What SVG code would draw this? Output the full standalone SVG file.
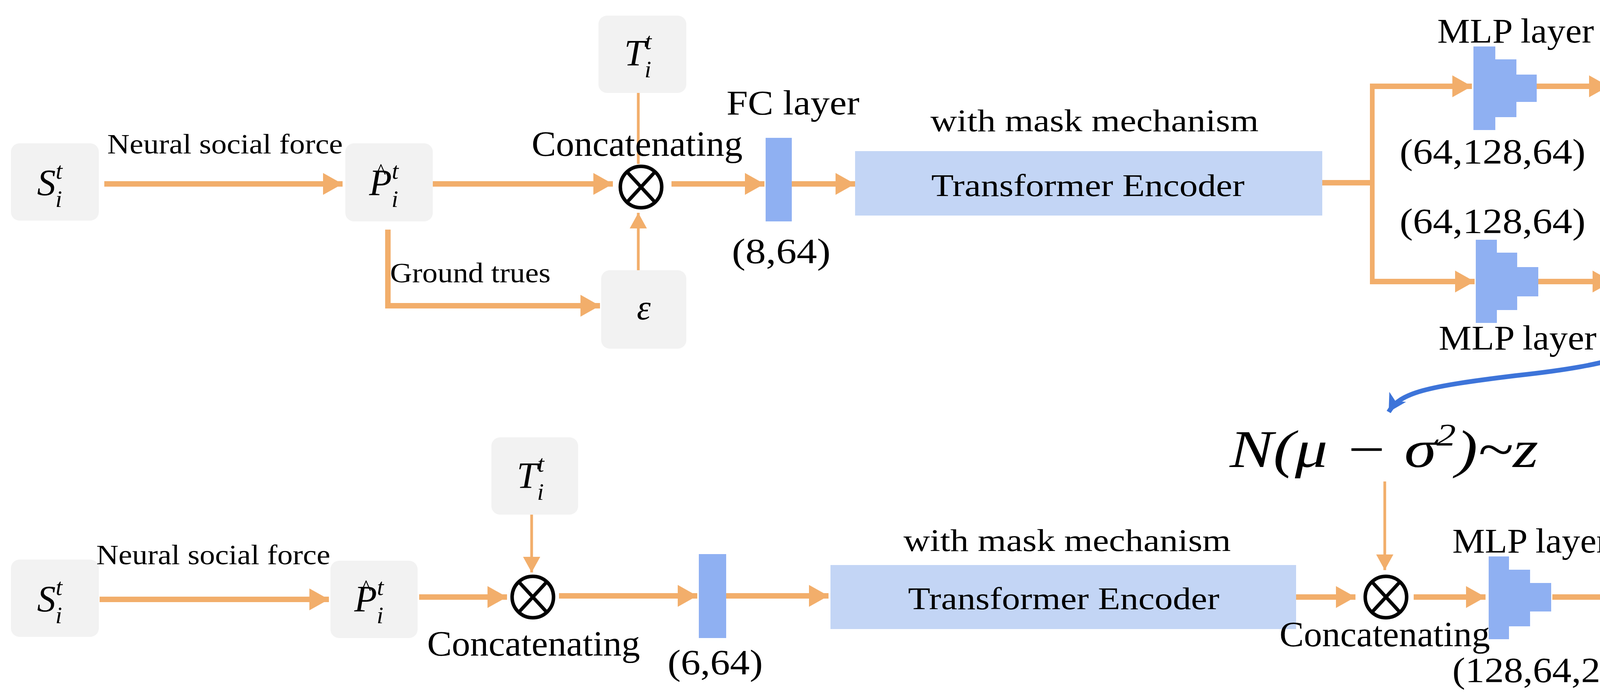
<svg xmlns="http://www.w3.org/2000/svg" width="4425" height="1785" viewBox="0 0 4425 1785">
<defs>
<marker id="ah" markerUnits="userSpaceOnUse" markerWidth="52" markerHeight="56" refX="50" refY="28" orient="auto"><path d="M0,0 L50,28 L0,56 z" fill="#F2AE6B"/></marker>
<marker id="ahs" markerUnits="userSpaceOnUse" markerWidth="40" markerHeight="44" refX="40" refY="22" orient="auto"><path d="M0,0 L40,22 L0,44 z" fill="#F2AE6B"/></marker>
<marker id="ahb" markerUnits="userSpaceOnUse" markerWidth="50" markerHeight="50" refX="45" refY="25" orient="auto"><path d="M0,0 L45,25 L0,50 L12,25 z" fill="#3D74D9"/></marker>
</defs>
<style>
.box{fill:#F2F2F2}
.bar{fill:#8FB0F2}
.te{fill:#C3D5F5}
.t{font-family:"Liberation Serif",serif;fill:#000}
.m{font-family:"Liberation Serif",serif;font-style:italic;fill:#000}
.a{stroke:#F2AE6B;stroke-width:14;fill:none;marker-end:url(#ah)}
.v{stroke:#F2AE6B;stroke-width:7;fill:none;marker-end:url(#ahs)}
.ln{stroke:#F2AE6B;stroke-width:7;fill:none}
.ot{fill:#fff;stroke:#000;stroke-width:9}
</style>
<g id="connectors">
<line class="a" x1="267" y1="471" x2="877" y2="471"/>
<line class="a" x1="1108" y1="471" x2="1569" y2="471"/>
<line class="ln" x1="1634" y1="238" x2="1634" y2="420"/>
<line class="v" x1="1634" y1="692" x2="1634" y2="545"/>
<polyline class="a" points="993,588 993,783 1536,783"/>
<line class="a" x1="1719" y1="471" x2="1957" y2="471"/>
<line class="a" x1="2027" y1="471" x2="2189" y2="471"/>
<line class="ln" x1="3385" y1="468" x2="3513" y2="468" style="stroke-width:14"/>
<line class="ln" x1="3513" y1="221" x2="3513" y2="727" style="stroke-width:12"/>
<line class="a" x1="3507" y1="221" x2="3768" y2="221"/>
<line class="a" x1="3507" y1="721" x2="3775" y2="721"/>
<line class="a" x1="3934" y1="221" x2="4118" y2="221"/>
<line class="a" x1="3938" y1="721" x2="4127" y2="721"/>
<path d="M4272,803 C4262,900 4130,935 3880,962 C3650,990 3585,1005 3555,1055" stroke="#3D74D9" stroke-width="12" fill="none" marker-end="url(#ahb)"/>
<line class="v" x1="3545" y1="1233" x2="3545" y2="1460"/>
<line class="a" x1="255" y1="1535" x2="842" y2="1535"/>
<line class="a" x1="1073" y1="1529" x2="1298" y2="1529"/>
<line class="v" x1="1361" y1="1318" x2="1361" y2="1466"/>
<line class="a" x1="1431" y1="1526" x2="1785" y2="1526"/>
<line class="a" x1="1859" y1="1526" x2="2121" y2="1526"/>
<line class="a" x1="3318" y1="1529" x2="3470" y2="1529"/>
<line class="a" x1="3619" y1="1529" x2="3803" y2="1529"/>
<line class="a" x1="3974" y1="1529" x2="4162" y2="1529"/>
</g>
<g id="S1"><rect class="box" x="28" y="367" width="225" height="198" rx="22"/><text class="m" x="95" y="500" font-size="95">S<tspan font-size="62" dy="-42">t</tspan><tspan font-size="62" dx="-18" dy="72">i</tspan></text></g>
<g id="P1"><rect class="box" x="884" y="367" width="224" height="200" rx="22"/><text class="m" x="945" y="500" font-size="95">P<tspan font-size="62" dy="-42">t</tspan><tspan font-size="62" dx="-18" dy="72">i</tspan></text><text class="t" x="962" y="458" font-size="56">^</text></g>
<g id="T1"><rect class="box" x="1532" y="40" width="225" height="198" rx="22"/><text class="m" x="1598" y="168" font-size="95">T<tspan font-size="62" dy="-42">t</tspan><tspan font-size="62" dx="-18" dy="72">i</tspan></text></g>
<g id="E1"><rect class="box" x="1539" y="692" width="218" height="201" rx="22"/><text class="m" x="1648" y="818" font-size="90" text-anchor="middle">ε</text></g>
<g id="C1"><circle class="ot" cx="1641" cy="479" r="53"/><path d="M1606,441 L1676,517 M1676,441 L1606,517" stroke="#000" stroke-width="9"/></g>
<g id="FC1"><rect class="bar" x="1960" y="353" width="67" height="214"/></g>
<g id="TE1"><rect class="te" x="2189" y="387" width="1196" height="165"/></g>
<g id="MLP1"><path class="bar" d="M3772,119 H3828 V152 H3882 V191 H3934 V261 H3882 V300 H3828 V333 H3772 Z"/></g>
<g id="MLP2"><path class="bar" d="M3778,614 H3832 V647 H3884 V684 H3938 V759 H3884 V794 H3832 V827 H3778 Z"/></g>
<g id="MS"><rect class="box" x="4127" y="138" width="223" height="663" rx="22"/><text class="m" x="4240" y="290" font-size="90" text-anchor="middle">μ</text><text class="m" x="4240" y="726" font-size="90" text-anchor="middle">σ</text></g>
<g id="S2"><rect class="box" x="28" y="1433" width="225" height="198" rx="22"/><text class="m" x="95" y="1566" font-size="95">S<tspan font-size="62" dy="-42">t</tspan><tspan font-size="62" dx="-18" dy="72">i</tspan></text></g>
<g id="P2"><rect class="box" x="846" y="1436" width="223" height="198" rx="22"/><text class="m" x="907" y="1566" font-size="95">P<tspan font-size="62" dy="-42">t</tspan><tspan font-size="62" dx="-18" dy="72">i</tspan></text><text class="t" x="924" y="1524" font-size="56">^</text></g>
<g id="T2"><rect class="box" x="1258" y="1120" width="222" height="198" rx="22"/><text class="m" x="1323" y="1250" font-size="95">T<tspan font-size="62" dy="-42">t</tspan><tspan font-size="62" dx="-18" dy="72">i</tspan></text></g>
<g id="C2"><circle class="ot" cx="1364" cy="1529" r="53"/><path d="M1329,1491 L1399,1567 M1399,1491 L1329,1567" stroke="#000" stroke-width="9"/></g>
<g id="FC2"><rect class="bar" x="1789" y="1419" width="70" height="215"/></g>
<g id="TE2"><rect class="te" x="2126" y="1447" width="1192" height="164"/></g>
<g id="C3"><circle class="ot" cx="3548" cy="1529" r="53"/><path d="M3513,1491 L3583,1567 M3583,1491 L3513,1567" stroke="#000" stroke-width="9"/></g>
<g id="MLP3"><path class="bar" d="M3811,1425 H3863 V1459 H3917 V1493 H3971 V1566 H3917 V1604 H3863 V1637 H3811 Z"/></g>
<g id="EH"><rect class="box" x="4165" y="1433" width="220" height="198" rx="22"/><text class="m" x="4268" y="1560" font-size="90" text-anchor="middle">ε</text><text class="t" x="4272" y="1540" font-size="60" text-anchor="middle">^</text></g>
<g id="labels">
<text class="t" x="576" y="393" font-size="72" text-anchor="middle" textLength="603" lengthAdjust="spacingAndGlyphs">Neural social force</text>
<text class="t" x="1204" y="723" font-size="72" text-anchor="middle" textLength="411" lengthAdjust="spacingAndGlyphs">Ground trues</text>
<text class="t" x="1631" y="399" font-size="90" text-anchor="middle" textLength="540" lengthAdjust="spacingAndGlyphs">Concatenating</text>
<text class="t" x="2030" y="293" font-size="88" text-anchor="middle" textLength="340" lengthAdjust="spacingAndGlyphs">FC layer</text>
<text class="t" x="2000" y="674" font-size="90" text-anchor="middle" textLength="253" lengthAdjust="spacingAndGlyphs">(8,64)</text>
<text class="t" x="2802" y="336" font-size="80" text-anchor="middle" textLength="840" lengthAdjust="spacingAndGlyphs">with mask mechanism</text>
<text class="t" x="2785" y="502" font-size="80" text-anchor="middle" textLength="802" lengthAdjust="spacingAndGlyphs">Transformer Encoder</text>
<text class="t" x="3880" y="109" font-size="88" text-anchor="middle" textLength="401" lengthAdjust="spacingAndGlyphs">MLP layer</text>
<text class="t" x="3821" y="419" font-size="90" text-anchor="middle" textLength="476" lengthAdjust="spacingAndGlyphs">(64,128,64)</text>
<text class="t" x="3821" y="597" font-size="90" text-anchor="middle" textLength="476" lengthAdjust="spacingAndGlyphs">(64,128,64)</text>
<text class="t" x="3885" y="895" font-size="88" text-anchor="middle" textLength="404" lengthAdjust="spacingAndGlyphs">MLP layer</text>
<text class="m" x="3543" y="1196" font-size="135" text-anchor="middle" textLength="790" lengthAdjust="spacingAndGlyphs">N(μ − σ<tspan font-size="80" dy="-55">2</tspan><tspan dy="55">)~z</tspan></text>
<text class="t" x="546" y="1445" font-size="72" text-anchor="middle" textLength="599" lengthAdjust="spacingAndGlyphs">Neural social force</text>
<text class="t" x="1366" y="1679" font-size="90" text-anchor="middle" textLength="545" lengthAdjust="spacingAndGlyphs">Concatenating</text>
<text class="t" x="1831" y="1727" font-size="90" text-anchor="middle" textLength="244" lengthAdjust="spacingAndGlyphs">(6,64)</text>
<text class="t" x="2732" y="1411" font-size="80" text-anchor="middle" textLength="838" lengthAdjust="spacingAndGlyphs">with mask mechanism</text>
<text class="t" x="2723" y="1560" font-size="80" text-anchor="middle" textLength="797" lengthAdjust="spacingAndGlyphs">Transformer Encoder</text>
<text class="t" x="3918" y="1415" font-size="88" text-anchor="middle" textLength="400" lengthAdjust="spacingAndGlyphs">MLP layer</text>
<text class="t" x="3545" y="1655" font-size="90" text-anchor="middle" textLength="539" lengthAdjust="spacingAndGlyphs">Concatenating</text>
<text class="t" x="3924" y="1747" font-size="90" text-anchor="middle" textLength="412" lengthAdjust="spacingAndGlyphs">(128,64,2)</text>
</g>
</svg>
